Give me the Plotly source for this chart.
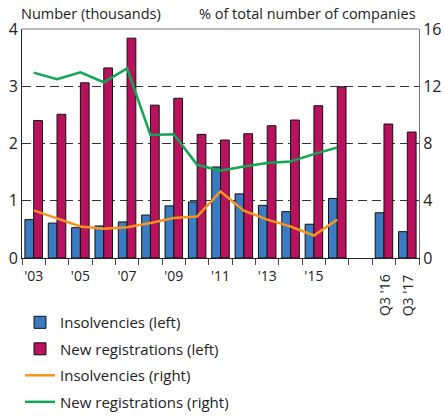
import plotly.graph_objects as go

categories = ["2003", "2004", "2005", "2006", "2007", "2008", "2009", "2010",
              "2011", "2012", "2013", "2014", "2015", "2016", " ", "Q3 '16", "Q3 '17"]
tick_text = ["'03", "", "'05", "", "'07", "", "'09", "", "'11", "", "'13", "", "'15", "", "", "", ""]
quarter_labels = ["Q3 '16", "Q3 '17"]

years = categories[:14]

insolvencies_left = [0.67, 0.61, 0.53, 0.56, 0.63, 0.75, 0.91, 0.98, 1.59, 1.12,
                     0.92, 0.81, 0.59, 1.04, None, 0.79, 0.46]
registrations_left = [2.40, 2.51, 3.06, 3.32, 3.84, 2.67, 2.79, 2.16, 2.06, 2.17,
                      2.31, 2.41, 2.66, 2.99, None, 2.34, 2.20]
insolvencies_right = [3.33, 2.75, 2.20, 2.05, 2.15, 2.45, 2.80, 2.90, 4.65, 3.30,
                      2.68, 2.20, 1.57, 2.68]
registrations_right = [12.95, 12.49, 12.97, 12.28, 13.25, 8.60, 8.65, 6.51, 6.10, 6.40,
                       6.63, 6.75, 7.26, 7.72]

BLUE = "#3A7BC2"
CRIMSON = "#B8125F"
ORANGE = "#F7941D"
GREEN = "#11A651"
FONT = "Open Sans"

fig = go.Figure()
fig.add_trace(go.Bar(x=categories, y=insolvencies_left, name="Insolvencies (left)",
                     legendgroup="a",
                     marker=dict(color=BLUE, line=dict(color="#111111", width=1))))
fig.add_trace(go.Bar(x=categories, y=registrations_left, name="New registrations (left)",
                     legendgroup="b",
                     marker=dict(color=CRIMSON, line=dict(color="#111111", width=1))))
fig.add_trace(go.Scatter(x=years, y=insolvencies_right, name="Insolvencies (right)",
                         legendgroup="c",
                         mode="lines", yaxis="y2", line=dict(color=ORANGE, width=2.5)))
fig.add_trace(go.Scatter(x=years, y=registrations_right, name="New registrations (right)",
                         legendgroup="d",
                         mode="lines", yaxis="y2", line=dict(color=GREEN, width=2.5)))

annotations = [
    dict(text="Number (thousands)", x=0, y=1, xref="paper", yref="paper",
         xanchor="left", yanchor="bottom", showarrow=False, yshift=4, xshift=-3,
         font=dict(size=14.5, color="#222", family=FONT)),
    dict(text="% of total number of companies", x=1, y=1, xref="paper", yref="paper",
         xanchor="right", yanchor="bottom", showarrow=False, yshift=4, xshift=-1,
         font=dict(size=14.5, color="#222", family=FONT)),
]
for q in quarter_labels:
    annotations.append(dict(text=q, x=q, xref="x", y=0, yref="paper", yanchor="top",
                            xanchor="center", textangle=-90, showarrow=False, yshift=-14,
                            font=dict(size=14, color="#222", family=FONT)))

fig.update_layout(
    width=444, height=416,
    margin=dict(l=22, r=25, t=29, b=158, autoexpand=False),
    paper_bgcolor="white", plot_bgcolor="white",
    font=dict(family=FONT, size=14, color="#222"),
    barmode="group", bargap=0.25, bargroupgap=0.0,
    showlegend=True,
    legend=dict(x=-0.005, y=-0.699, xanchor="left", yanchor="bottom",
                orientation="v", font=dict(size=15, family=FONT), itemwidth=30,
                traceorder="grouped", tracegroupgap=4),
    xaxis=dict(type="category", categoryorder="array", categoryarray=categories,
               tickmode="array", tickvals=categories, ticktext=tick_text,
               tickson="boundaries", ticks="outside", ticklen=6, tickcolor="#444",
               ticklabelstandoff=5,
               showline=True, linecolor="#222", linewidth=1, mirror=False,
               showgrid=False, tickfont=dict(size=14), tickangle=0, automargin=False),
    yaxis=dict(range=[0, 4], tickvals=[0, 1, 2, 3, 4], showgrid=True,
               gridcolor="#333", griddash="9px,5px", gridwidth=1, zeroline=False,
               showline=True, linecolor="#222", linewidth=1, ticks="",
               tickfont=dict(size=16), automargin=False),
    yaxis2=dict(range=[0, 16], tickvals=[0, 4, 8, 12, 16], overlaying="y", side="right",
                showgrid=False, zeroline=False, showline=True, linecolor="#777",
                linewidth=1, ticks="", tickfont=dict(size=16), automargin=False),
    annotations=annotations,
    shapes=[dict(type="line", xref="paper", yref="paper", x0=0, x1=1, y0=1, y1=1,
                 line=dict(color="#777", width=1))],
)

fig.write_html("out.html", config={"displayModeBar": False},
               post_script="document.body.style.margin='0';")
